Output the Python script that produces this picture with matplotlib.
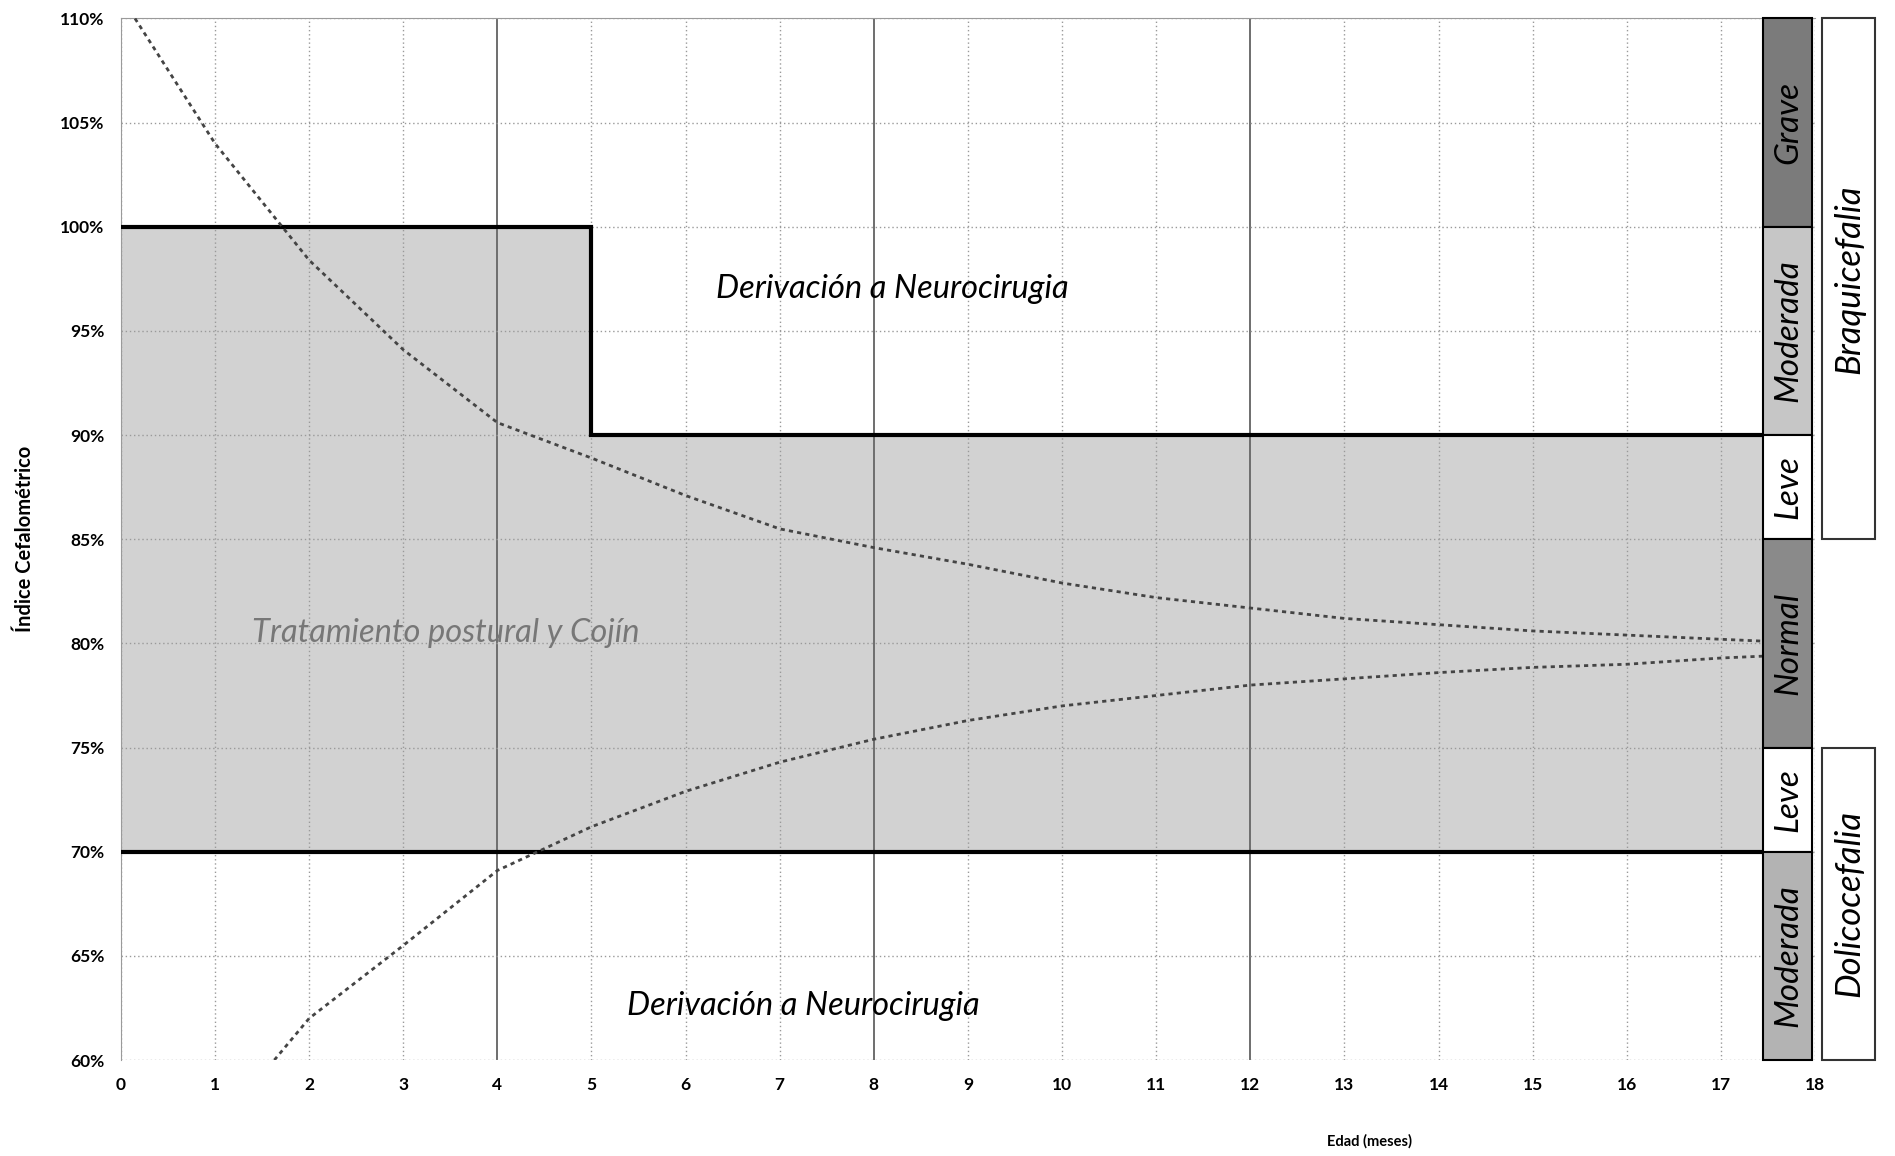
import matplotlib
matplotlib.use('Agg')
from matplotlib import pyplot as plt
from matplotlib.patches import Rectangle

# edad (meses) y curvas de referencia del indice cefalometrico
upper_age = [0.15, 1, 2, 3, 4, 5, 6, 7, 8, 9, 10, 11, 12, 13, 14, 15, 16, 17, 17.5]
upper_ci = [110, 104.0, 98.4, 94.1, 90.6, 88.9, 87.1, 85.5, 84.6, 83.8,
            82.9, 82.2, 81.7, 81.2, 80.9, 80.6, 80.4, 80.2, 80.1]
lower_age = [1.63, 2, 3, 4, 5, 6, 7, 8, 9, 10, 11, 12, 13, 14, 15, 16, 17, 17.5]
lower_ci = [60, 62.0, 65.5, 69.1, 71.2, 72.9, 74.3, 75.4, 76.3, 77.0,
            77.5, 78.0, 78.3, 78.6, 78.85, 79.0, 79.3, 79.4]

# zona de tratamiento postural (limites)
zone_age = [0, 5, 5, 17.45]
zone_top = [100, 100, 90, 90]
zone_bottom = 70

# columna de severidad
sev_labels = ['Grave', 'Moderada', 'Leve', 'Normal', 'Leve', 'Moderada']
sev_top = [110, 100, 90, 85, 75, 70]
sev_bottom = [100, 90, 85, 75, 70, 60]
sev_colors = ['#7b7b7b', '#c6c6c6', '#ffffff', '#8a8a8a', '#ffffff', '#b3b3b3']

type_labels = ['Braquicefalia', 'Dolicocefalia']
type_top = [110, 75]
type_bottom = [85, 60]

x_ticks = list(range(0, 19))
y_ticks = list(range(60, 111, 5))

plt.rcParams['font.family'] = ['Lato', 'DejaVu Sans']

fig = plt.figure(figsize=(18.95, 11.56), dpi=100)
ax = fig.add_axes([0.0638, 0.083, 0.894, 0.901])
ax.set_xlim(0, 18)
ax.set_ylim(60, 110)

# rejilla
for x in x_ticks:
    if x in (4, 8, 12):
        ax.axvline(x, color='#6e6e6e', lw=1.4, zorder=1)
    else:
        ax.axvline(x, color='#9a9a9a', lw=1.0, ls=(0, (1, 2)), zorder=1)
for y in y_ticks:
    ax.axhline(y, color='#9a9a9a', lw=1.0, ls=(0, (1, 2)), zorder=1)

# zona gris
ax.fill_between([0, 5], 70, 100, color='#d2d2d2', lw=0, zorder=0.5)
ax.fill_between([5, 17.45], 70, 90, color='#d2d2d2', lw=0, zorder=0.5)

# limites gruesos
ax.plot(zone_age, zone_top, color='black', lw=3, zorder=3, solid_joinstyle='miter')
ax.plot([0, 17.45], [zone_bottom, zone_bottom], color='black', lw=3, zorder=3)

# curvas
ax.plot(upper_age, upper_ci, color='#444444', lw=2, ls=(0, (1.5, 1.5)), zorder=4)
ax.plot(lower_age, lower_ci, color='#444444', lw=2, ls=(0, (1.5, 1.5)), zorder=4)

# textos
ax.text(8.2, 97.0, 'Derivación a Neurocirugia', fontsize=23.5, style='italic',
        ha='center', va='center', zorder=5)
ax.text(7.25, 62.6, 'Derivación a Neurocirugia', fontsize=23.5, style='italic',
        ha='center', va='center', zorder=5)
ax.text(3.45, 80.5, 'Tratamiento postural y Cojín', fontsize=23.5, style='italic',
        color='#777777', ha='center', va='center', zorder=5)

# columna de severidad
for lab, top, bot, col in zip(sev_labels, sev_top, sev_bottom, sev_colors):
    ax.add_patch(Rectangle((17.45, bot), 0.52, top - bot, facecolor=col,
                           edgecolor='black', lw=1.5, zorder=6, clip_on=False))
    ax.text(17.72, (top + bot) / 2, lab, rotation=90, fontsize=24, style='italic',
            ha='center', va='center', zorder=7, clip_on=False)

for lab, top, bot in zip(type_labels, type_top, type_bottom):
    ax.add_patch(Rectangle((18.07, bot), 0.57, top - bot, facecolor='white',
                           edgecolor='#333333', lw=1.5, zorder=6, clip_on=False))
    ax.text(18.36, (top + bot) / 2, lab, rotation=90, fontsize=25, style='italic',
            ha='center', va='center', zorder=7, clip_on=False)

ax.set_xticks(x_ticks)
ax.set_yticks(y_ticks)
ax.set_yticklabels([f'{y}%' for y in y_ticks])
ax.tick_params(length=0, labelsize=12.5, pad=12)
for lab in ax.get_xticklabels() + ax.get_yticklabels():
    lab.set_fontweight('bold')

for side in ['right', 'bottom']:
    ax.spines[side].set_visible(False)
ax.spines['left'].set_color('#9a9a9a')
ax.spines['top'].set_color('#9a9a9a')

ax.set_xlabel('Edad (meses)', fontsize=10.5, fontweight='bold')
ax.xaxis.set_label_coords(0.737, -0.071)
ax.set_ylabel('Índice Cefalométrico', fontsize=14.5, fontweight='bold', labelpad=18)

fig.savefig('out.png', dpi=100)
